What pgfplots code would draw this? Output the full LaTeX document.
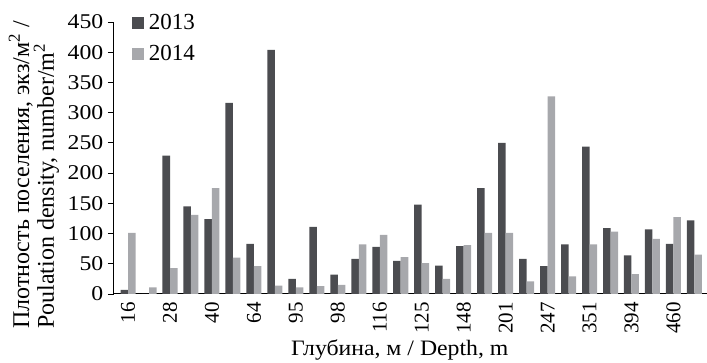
\documentclass[border=0pt]{standalone}
\usepackage{pgfplots}
\pgfplotsset{compat=1.18}
\usepackage{pgfplotstable}
\usepackage{fontspec}
\setmainfont{Liberation Serif}
\definecolor{darkbar}{HTML}{4B4C50}
\definecolor{lightbar}{HTML}{A7A8AC}
\pgfplotstableread{
x y13 y14
0 7 101
1 0 11
2 229 43
3 145 131
4 124 175
5 316 60
6 83 46
7 404 14
8 25 11
9 111 13
10 32 15
11 58 82
12 78 98
13 55 61
14 148 51
15 47 25
16 79 81
17 175 101
18 250 101
19 58 21
20 46 327
21 82 29
22 244 82
23 109 103
24 64 33
25 107 91
26 83 127
27 122 65
}\data
\begin{document}
\begin{tikzpicture}
\useasboundingbox (0,0) rectangle (707pt,363pt);
\begin{axis}[
  at={(114pt,69pt)}, anchor=south west,
  scale only axis, width=593pt, height=272pt,
  xmin=-0.67, xmax=27.6, ymin=0, ymax=450,
  axis x line*=bottom, axis y line*=left,
  axis line style={-, line width=1pt, black},
  ytick={0,50,...,450},
  xtick={0,2,...,26},
  xticklabels={16,28,40,64,95,98,116,125,148,201,247,351,394,460},
  x tick style={draw=none},
  y tick style={black, line width=0.8pt},
  tick align=outside, major tick length=6pt,
  /pgf/number format/assume math mode=true,
  tick label style={font=\fontsize{21}{21}\selectfont},
  xticklabel style={rotate=90, anchor=east, inner sep=2pt},
  yticklabel style={inner sep=4pt, xscale=1.13},
  xlabel={Глубина, м / Depth, m},
  xlabel style={at={(rel axis cs:0.482,-0.205)}, anchor=center, xscale=1.08, font=\fontsize{22}{22}\selectfont},
  ylabel={Плотность поселения, экз/м\textsuperscript{2} /\\Poulation density, number/m\textsuperscript{2}},
  ylabel style={at={(rel axis cs:-0.135,0.4375)}, anchor=center, align=left, font=\fontsize{24}{23}\selectfont},
  legend style={at={(rel axis cs:0.03,1.035)}, anchor=north west, draw=none, fill=none,
    font=\fontsize{23}{23}\selectfont, row sep=10pt, column sep=3pt, inner sep=0pt},
  legend cell align=left,
  legend image code/.code={\fill[#1] (0pt,-6pt) rectangle (12pt,6pt);},
]
\addplot[ybar, bar width=0.358, bar shift=-0.179, fill=darkbar, draw=none] table[x=x,y=y13]{\data};
\addlegendentry{2013}
\addplot[ybar, bar width=0.358, bar shift=0.179, fill=lightbar, draw=none] table[x=x,y=y14]{\data};
\addlegendentry{2014}
\end{axis}
\end{tikzpicture}
\end{document}
